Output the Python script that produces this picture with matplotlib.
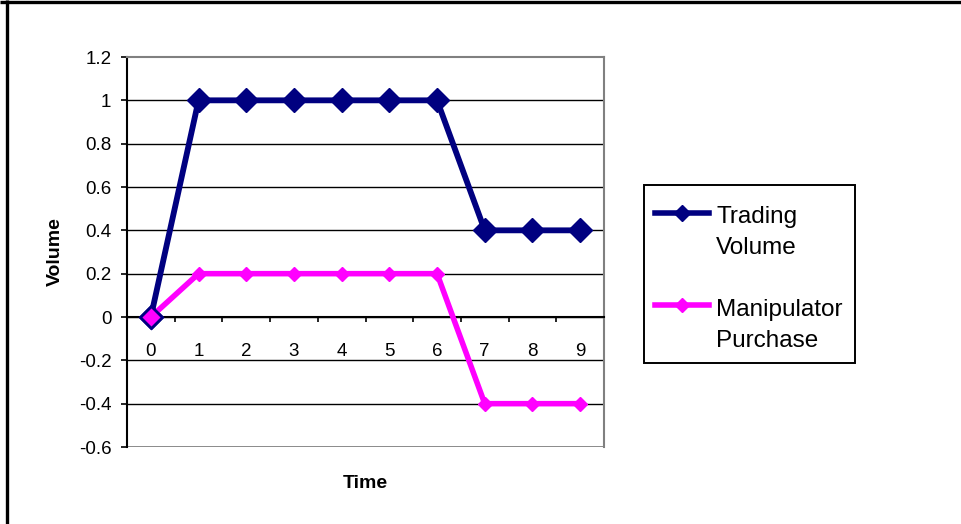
import matplotlib
matplotlib.use("Agg")
import matplotlib.pyplot as plt
from matplotlib.lines import Line2D
from matplotlib.patches import Rectangle
from matplotlib.legend_handler import HandlerLine2D
import numpy as np

plt.rcParams['font.family'] = ['Liberation Sans', 'DejaVu Sans']

time = [0, 1, 2, 3, 4, 5, 6, 7, 8, 9]
trading_volume = [0, 1, 1, 1, 1, 1, 1, 0.4, 0.4, 0.4]
manipulator_purchase = [0, 0.2, 0.2, 0.2, 0.2, 0.2, 0.2, -0.4, -0.4, -0.4]
y_ticks = [-0.6, -0.4, -0.2, 0, 0.2, 0.4, 0.6, 0.8, 1, 1.2]
y_tick_labels = ["-0.6", "-0.4", "-0.2", "0", "0.2", "0.4", "0.6", "0.8", "1", "1.2"]

NAVY = "#000080"
MAGENTA = "#FF00FF"
GRAY = "#808080"


class TopAlignedLine(HandlerLine2D):
    """Legend handle placed level with the first line of a two-line label."""

    def __init__(self, shift, **kw):
        super().__init__(**kw)
        self.shift = shift

    def create_artists(self, legend, orig_handle, xdescent, ydescent,
                       width, height, fontsize, trans):
        return super().create_artists(legend, orig_handle, xdescent,
                                      ydescent - 2 * self.shift, width, height,
                                      fontsize, trans)


W, H = 962, 524
fig = plt.figure(figsize=(W / 100, H / 100), dpi=100)
fig.patch.set_facecolor("white")

# outer frame (top and left edges)
fig.add_artist(Line2D([0, 1], [1 - 2 / H, 1 - 2 / H], transform=fig.transFigure,
                      color="black", lw=2.4, solid_capstyle="butt"))
fig.add_artist(Line2D([6.5 / W, 6.5 / W], [0, 1], transform=fig.transFigure,
                      color="black", lw=2.4, solid_capstyle="butt"))

left, right, top, bottom = 127, 604, 57, 447
ax = fig.add_axes([left / W, 1 - bottom / H, (right - left) / W, (bottom - top) / H])

ax.set_xlim(-0.5, 9.5)
ax.set_ylim(-0.6, 1.2)

# horizontal gridlines
for yv in y_ticks:
    if yv in (-0.6, 1.2):
        continue
    ax.axhline(yv, color="black", lw=1.0, zorder=1)
ax.axhline(-0.6, color=GRAY, lw=2.0, zorder=1)

for s in ("top", "right"):
    ax.spines[s].set_color(GRAY)
    ax.spines[s].set_linewidth(1.5)
ax.spines["left"].set_color("black")
ax.spines["left"].set_linewidth(1.5)
ax.spines["bottom"].set_position(("data", 0))
ax.spines["bottom"].set_color("black")
ax.spines["bottom"].set_linewidth(1.5)

ax.set_yticks(y_ticks)
ax.set_yticklabels(y_tick_labels)
ax.tick_params(axis="y", direction="out", length=4.3, width=1.2, pad=7, labelsize=13.5)

ax.set_xticks(time)
ax.set_xticklabels([str(t) for t in time])
ax.set_xticks(np.arange(-0.5, 10, 1.0), minor=True)
ax.tick_params(axis="x", which="major", length=0, pad=18.5, labelsize=13.5)
ax.tick_params(axis="x", which="minor", direction="out", length=3.5, width=1.2)

tv_line, = ax.plot(time, trading_volume, color=NAVY, lw=4.2, marker="D", ms=12,
                   mfc=NAVY, mec=NAVY, zorder=3, clip_on=False)
mp_line, = ax.plot(time, manipulator_purchase, color=MAGENTA, lw=4.0, marker="D", ms=7,
                   mfc=MAGENTA, mec=MAGENTA, zorder=4, clip_on=False)
# first purchase point drawn with a navy outline
ax.plot(time[:1], manipulator_purchase[:1], linestyle="none", marker="D", ms=11,
        mfc=MAGENTA, mec=NAVY, mew=2, zorder=5, clip_on=False)

ax.set_ylabel("Volume", fontsize=14, fontweight="bold")
ax.yaxis.set_label_coords((55 - left) / (right - left), 0.5)
ax.set_xlabel("Time", fontsize=14, fontweight="bold")
ax.xaxis.set_label_coords(0.5, -(484 - bottom) / (bottom - top))
ax.xaxis.label.set_va("center")
ax.yaxis.label.set_va("center")

# legend box
bx0, bx1, by0, by1 = 644, 855, 185, 363
fig.add_artist(Rectangle((bx0 / W, 1 - by1 / H), (bx1 - bx0) / W, (by1 - by0) / H,
                         transform=fig.transFigure, facecolor="white",
                         edgecolor="black", lw=1.4, zorder=5))
leg_handles = [
    Line2D([], [], color=NAVY, lw=4.0, marker="D", ms=8, mfc=NAVY, mec=NAVY),
    Line2D([], [], color=MAGENTA, lw=4.0, marker="D", ms=7.5, mfc=MAGENTA, mec=MAGENTA),
]
leg = fig.legend(leg_handles, ["Trading\nVolume", "Manipulator\nPurchase"],
                 loc="center", bbox_to_anchor=((bx0 + bx1) / 2 / W - 0.5 / W,
                                               1 - ((by0 + by1) / 2 + 5) / H),
                 bbox_transform=fig.transFigure, fontsize=17.5, frameon=False,
                 handlelength=2.2, handletextpad=0.3, labelspacing=1.65,
                 borderpad=0.0,
                 handler_map={Line2D: TopAlignedLine(shift=14.5, numpoints=1)})
for t in leg.get_texts():
    t.set_linespacing(1.5)
leg.set_zorder(6)

fig.savefig("out.png", dpi=100, facecolor="white")
